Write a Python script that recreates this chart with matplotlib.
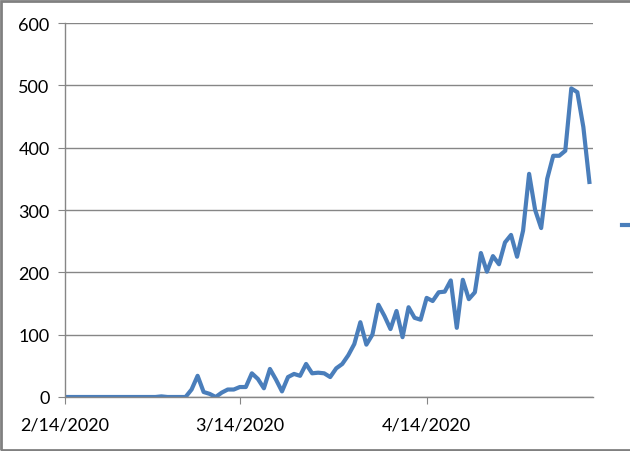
import numpy as np
import pandas as pd
import matplotlib
matplotlib.use('Agg')
import matplotlib.pyplot as plt
from matplotlib.patches import Rectangle
from matplotlib.lines import Line2D

plt.rcParams['font.family'] = ['Lato', 'DejaVu Sans']

# daily values, 2/14/2020 .. 5/11/2020
start = '2020-02-14'
values = [0, 0, 0, 0, 0, 0, 0, 0, 0, 0,
          0, 0, 0, 0, 0, 0, 1, 0, 0, 0,
          0, 12, 34, 8, 5, 0, 7, 12, 12, 16,
          16, 38, 29, 14, 45, 28, 9, 32, 37, 34,
          53, 38, 39, 38, 32, 46, 53, 67, 85, 120,
          84, 100, 148, 130, 109, 138, 96, 144, 127, 124,
          159, 154, 168, 169, 187, 111, 188, 157, 168, 231,
          201, 226, 213, 248, 260, 225, 267, 358, 300, 271,
          350, 387, 387, 395, 495, 489, 433, 345]
dates = pd.date_range(start, periods=len(values), freq='D')

tick_dates = pd.to_datetime(['2020-02-14', '2020-03-14', '2020-04-14'])
tick_labels = ['2/14/2020', '3/14/2020', '4/14/2020']
y_ticks = [0, 100, 200, 300, 400, 500, 600]

fig = plt.figure(figsize=(6.3, 4.52), dpi=100)
ax = fig.add_axes([65/630, 1-398/452, (593-65)/630, (398-24)/452])

blue = '#4A7EBB'
grid_c = '#868686'
ax.plot(dates, values, color=blue, lw=3.0, solid_joinstyle='round')

ax.set_ylim(0, 600)
ax.set_yticks(y_ticks)
ax.set_xlim(dates[0], dates[0] + pd.Timedelta(days=87.6))
ax.set_xticks(tick_dates)
ax.set_xticklabels(tick_labels)

ax.grid(axis='y', color=grid_c, lw=1)
ax.set_axisbelow(True)
for s in ['top', 'right']:
    ax.spines[s].set_visible(False)
for s in ['left', 'bottom']:
    ax.spines[s].set_color(grid_c)
    ax.spines[s].set_linewidth(1)
ax.tick_params(axis='y', length=5, color=grid_c, pad=6, labelsize=13)
ax.tick_params(axis='x', length=5, color=grid_c, pad=9, labelsize=13)

# legend marker only (text cut off at right edge)
fig.lines.append(Line2D([622/630, 1.0], [1-226/452, 1-226/452],
                        transform=fig.transFigure, color=blue, lw=3.0))

# chart area border
fig.patches.append(Rectangle((1/630, 1/452), 1.2, 1-3/452, transform=fig.transFigure,
                             fill=False, edgecolor='#808080', lw=2))

fig.savefig('out.png', dpi=100)
